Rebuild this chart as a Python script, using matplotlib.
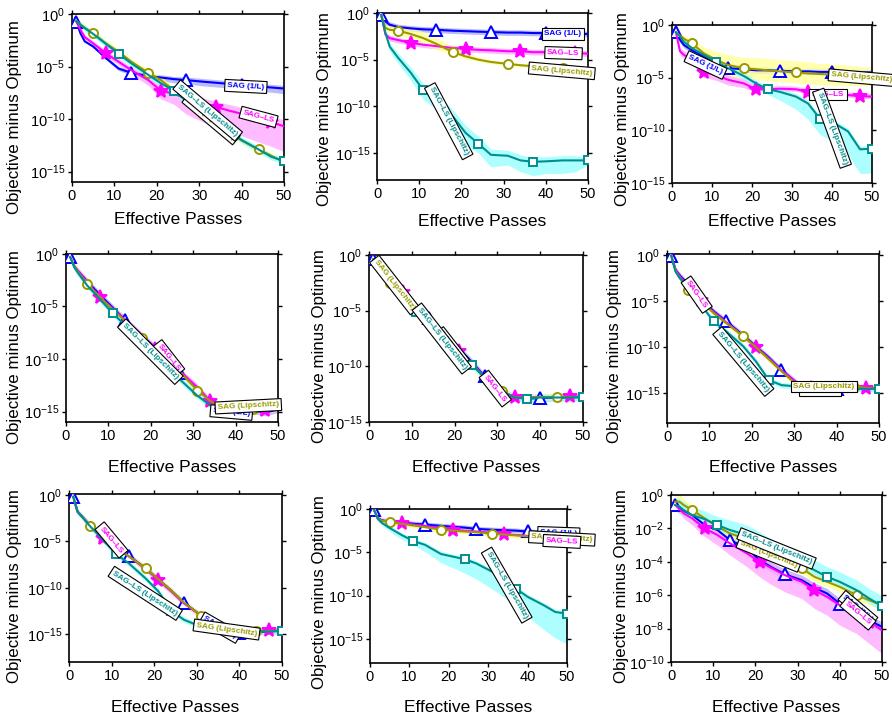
import numpy as np
import matplotlib
matplotlib.use('Agg')
import matplotlib.pyplot as plt

plt.rcParams['font.family'] = ['Liberation Sans', 'DejaVu Sans']
plt.rcParams['mathtext.fontset'] = 'custom'
plt.rcParams['mathtext.rm'] = 'Liberation Sans'
plt.rcParams['mathtext.it'] = 'Liberation Sans:italic'

# %% data: log10(objective - optimum), one row per panel
passes = [1, 2, 3, 5, 8, 11, 14, 18, 21, 24, 27, 31, 34, 37, 40, 44, 47, 50]

sag_1L = [
    [-0.73, -1.85, -2.6, -3.1, -4.2, -5.2, -5.6, -5.9, -6.05, -6.2, -6.3, -6.45, -6.55, -6.65, -6.75, -6.9, -7.0, -7.1],
    [-0.2, -0.9, -1.25, -1.5, -1.65, -1.75, -1.8, -1.9, -1.95, -2.0, -2.05, -2.1, -2.1, -2.15, -2.15, -2.2, -2.2, -2.25],
    [-0.7, -1.4, -1.9, -2.4, -3.0, -3.6, -4.1, -4.2, -4.3, -4.3, -4.35, -4.4, -4.4, -4.45, -4.45, -4.5, -4.5, -4.5],
    [-0.3, -1.2, -1.7, -2.6, -3.9, -5.1, -6.3, -7.8, -8.9, -10.1, -11.3, -12.8, -14.0, -14.7, -14.8, -14.9, -15.1, -14.8],
    [-0.4, -0.8, -1.2, -2.0, -3.2, -4.6, -5.7, -7.3, -8.4, -9.6, -10.9, -12.2, -12.8, -12.9, -12.85, -12.8, -12.8, -12.75],
    [-0.07, -1.6, -2.2, -3.2, -4.7, -6.1, -7.2, -8.7, -9.9, -11.1, -12.45, -14.0, -14.4, -14.45, -14.5, -14.45, -14.5, -14.45],
    [-0.2, -1.8, -2.3, -3.3, -4.5, -5.5, -6.55, -7.9, -9.1, -10.3, -11.6, -13.0, -13.9, -14.5, -14.9, -14.8, -14.7, -14.65],
    [-0.08, -1.05, -1.3, -1.45, -1.55, -1.7, -1.8, -1.95, -2.05, -2.15, -2.3, -2.4, -2.45, -2.5, -2.6, -2.7, -2.75, -2.8],
    [-0.6, -0.8, -0.95, -1.2, -1.8, -2.1, -2.7, -3.2, -3.9, -4.35, -4.75, -5.1, -5.55, -5.9, -6.5, -7.0, -7.5, -7.9],
]
sag_ls = [
    [-0.73, -1.5, -2.2, -2.8, -3.75, -4.55, -5.35, -6.3, -7.3, -7.6, -8.05, -8.5, -8.85, -9.2, -9.5, -10.0, -10.3, -10.7],
    [-0.2, -2.3, -2.7, -2.9, -3.2, -3.4, -3.55, -3.75, -3.85, -3.95, -4.0, -4.1, -4.1, -4.2, -4.2, -4.25, -4.3, -4.35],
    [-0.7, -2.5, -2.85, -3.2, -4.45, -4.75, -5.2, -5.55, -6.1, -6.1, -6.05, -6.1, -6.35, -6.6, -6.65, -6.65, -6.75, -6.8],
    [-0.3, -1.2, -1.7, -2.7, -4.1, -5.2, -6.3, -7.8, -9.0, -10.0, -11.2, -12.7, -14.0, -14.6, -14.8, -14.8, -14.9, -14.8],
    [-0.4, -0.9, -1.3, -2.2, -3.3, -4.7, -5.8, -7.4, -8.6, -9.7, -11.0, -12.3, -12.75, -12.8, -12.75, -12.8, -12.7, -12.75],
    [-0.07, -1.6, -2.3, -3.4, -4.9, -6.2, -7.3, -8.8, -10.0, -11.2, -12.5, -14.0, -14.4, -14.45, -14.5, -14.45, -14.45, -14.45],
    [-0.2, -1.8, -2.3, -3.4, -4.6, -5.6, -6.6, -8.0, -9.2, -10.4, -11.7, -13.0, -14.0, -14.5, -14.8, -14.75, -14.6, -14.65],
    [-0.08, -1.1, -1.35, -1.5, -1.6, -1.8, -1.95, -2.2, -2.4, -2.5, -2.6, -2.75, -2.9, -3.0, -3.1, -3.25, -3.4, -3.5],
    [-0.6, -0.85, -1.1, -1.4, -2.0, -2.4, -2.9, -3.5, -4.0, -4.4, -4.8, -5.2, -5.7, -6.1, -6.6, -7.1, -7.6, -8.1],
]
sag_lip = [
    [-0.65, -1.0, -1.3, -1.85, -2.8, -3.6, -4.55, -5.6, -6.3, -7.25, -8.2, -9.5, -10.45, -11.25, -12.05, -12.9, -13.5, -14.1],
    [-0.2, -1.6, -1.8, -1.9, -2.25, -2.7, -3.3, -4.2, -4.65, -5.0, -5.25, -5.45, -5.6, -5.7, -5.8, -5.9, -6.0, -6.05],
    [-0.7, -1.0, -1.3, -1.75, -2.7, -3.3, -3.8, -4.1, -4.2, -4.3, -4.4, -4.5, -4.6, -4.65, -4.7, -4.8, -4.85, -4.9],
    [-0.3, -1.2, -1.8, -2.9, -4.1, -5.3, -6.4, -8.0, -9.1, -10.2, -11.3, -13.0, -14.0, -14.6, -14.8, -14.8, -14.8, -14.7],
    [-0.4, -0.9, -1.4, -2.55, -3.6, -4.9, -6.0, -7.6, -8.7, -9.8, -11.0, -12.2, -12.8, -12.8, -12.75, -12.75, -12.75, -12.75],
    [-0.07, -1.7, -2.5, -3.8, -5.0, -6.3, -7.4, -8.8, -10.0, -11.3, -12.6, -14.25, -14.4, -14.4, -14.35, -14.25, -14.4, -14.45],
    [-0.2, -1.8, -2.3, -3.35, -4.6, -5.6, -6.6, -7.9, -9.1, -10.3, -11.6, -13.0, -13.9, -14.4, -14.6, -14.7, -14.65, -14.65],
    [-0.08, -1.1, -1.35, -1.5, -1.7, -1.9, -2.1, -2.4, -2.5, -2.6, -2.7, -2.85, -2.95, -3.05, -3.15, -3.25, -3.4, -3.5],
    [-0.4, -0.4, -0.6, -0.9, -1.4, -1.9, -2.3, -2.65, -3.0, -3.6, -4.0, -4.4, -4.9, -5.2, -5.5, -6.0, -6.3, -6.6],
]
sag_ls_lip = [
    [-0.7, -1.05, -1.35, -1.9, -2.85, -3.8, -4.7, -5.8, -6.6, -7.3, -8.3, -9.5, -10.4, -11.2, -12.0, -12.9, -13.6, -14.0],
    [-0.2, -2.15, -3.6, -4.8, -6.4, -8.3, -9.3, -11.1, -12.85, -14.0, -15.2, -15.3, -15.8, -15.95, -15.9, -15.8, -15.8, -15.8],
    [-0.7, -1.1, -1.6, -2.2, -2.85, -3.5, -4.1, -4.85, -5.55, -6.1, -6.35, -6.8, -7.45, -8.9, -9.2, -10.1, -11.8, -11.75],
    [-0.3, -1.3, -1.9, -3.0, -4.3, -5.65, -6.8, -8.4, -9.6, -10.8, -12.0, -13.5, -14.4, -14.7, -14.7, -14.7, -14.6, -14.5],
    [-0.4, -0.9, -1.4, -2.4, -3.7, -5.1, -6.2, -7.8, -8.9, -9.85, -11.0, -12.3, -12.8, -12.9, -12.8, -12.8, -12.8, -12.75],
    [-0.07, -1.8, -2.5, -3.4, -5.4, -7.2, -8.3, -9.9, -11.55, -13.55, -14.1, -14.25, -14.4, -14.4, -14.45, -14.5, -14.5, -14.5],
    [-0.2, -1.8, -2.3, -3.4, -4.85, -6.35, -7.35, -9.0, -10.4, -12.5, -13.45, -14.2, -14.45, -14.7, -14.9, -14.7, -14.7, -14.65],
    [-0.08, -1.15, -1.6, -2.2, -3.0, -3.7, -4.15, -5.2, -5.5, -5.8, -6.3, -7.25, -8.2, -9.2, -10.15, -11.1, -11.9, -12.1],
    [-0.6, -0.7, -0.9, -1.2, -1.45, -1.8, -2.1, -2.4, -2.8, -3.3, -3.7, -4.1, -4.5, -4.9, -5.2, -5.7, -6.2, -6.65],
]

# spread of the shaded bands (decades below / above), where wider than default
band_default = 0.3
band_lo = {
    (0, 0): [0.1, 0.1, 0.1, 0.1, 0.15, 0.2, 0.2, 0.25, 0.3, 0.35, 0.35, 0.4, 0.4, 0.4, 0.45, 0.45, 0.45, 0.5],
    (0, 1): [0.1, 0.2, 0.2, 0.2, 0.3, 0.3, 0.4, 0.5, 0.8, 1.0, 1.5, 1.8, 2.0, 2.0, 2.1, 2.2, 2.3, 2.4],
    (1, 2): [0.0, 0.2, 0.3, 0.4, 0.6, 0.7, 0.6, 0.3, 0.3, 0.2, 0.2, 0.2, 0.2, 0.2, 0.2, 0.2, 0.2, 0.2],
    (1, 3): [0.0, 0.3, 0.5, 0.6, 0.8, 1.0, 1.0, 1.0, 1.2, 1.0, 1.3, 1.0, 1.2, 1.5, 1.3, 1.4, 1.2, 0.5],
    (2, 1): [0.0, 0.3, 0.4, 0.5, 0.5, 0.5, 0.5, 0.4, 0.3, 0.2, 0.2, 0.2, 0.2, 0.2, 0.2, 0.2, 0.2, 0.2],
    (2, 2): [0.0, 0.2, 0.3, 0.4, 0.6, 0.8, 1.0, 1.0, 1.0, 1.0, 1.0, 1.0, 1.0, 1.0, 1.0, 1.0, 0.9, 0.9],
    (2, 3): [0.1, 0.2, 0.2, 0.3, 0.3, 0.3, 0.3, 0.3, 0.3, 0.5, 0.8, 1.2, 1.5, 1.5, 1.8, 2.2, 2.3, 2.3],
    (7, 3): [0.1, 0.2, 0.3, 0.4, 0.5, 0.5, 0.8, 1.0, 1.3, 1.6, 1.8, 2.0, 2.0, 2.0, 2.3, 2.8, 3.0, 3.5],
    (8, 1): [0.1, 0.2, 0.3, 0.4, 0.5, 0.6, 0.7, 0.8, 0.9, 1.0, 1.0, 1.0, 1.1, 1.1, 1.2, 1.2, 1.3, 1.4],
}
band_hi = {
    (0, 0): [0.1, 0.1, 0.1, 0.1, 0.15, 0.2, 0.2, 0.25, 0.25, 0.25, 0.3, 0.3, 0.3, 0.3, 0.3, 0.3, 0.3, 0.3],
    (0, 1): [0.1, 0.2, 0.2, 0.2, 0.3, 0.3, 0.3, 0.3, 0.4, 0.4, 0.5, 0.5, 0.5, 0.6, 0.6, 0.6, 0.6, 0.6],
    (1, 2): [0.0, 0.3, 0.4, 0.5, 0.6, 0.7, 0.7, 0.6, 0.5, 0.3, 0.2, 0.2, 0.2, 0.2, 0.2, 0.2, 0.2, 0.2],
    (1, 3): [0.0, 0.3, 0.4, 0.5, 0.6, 0.7, 0.8, 0.7, 0.8, 0.8, 0.6, 0.6, 0.6, 0.5, 0.5, 0.5, 0.5, 0.3],
    (2, 1): [0.0, 0.3, 0.4, 0.5, 0.5, 0.5, 0.5, 0.5, 0.4, 0.3, 0.3, 0.3, 0.3, 0.3, 0.3, 0.3, 0.3, 0.3],
    (2, 2): [0.0, 0.2, 0.3, 0.4, 0.6, 0.8, 1.0, 1.0, 1.1, 1.1, 1.1, 1.1, 1.1, 1.0, 1.0, 1.0, 0.9, 0.9],
    (8, 2): [0.5, 0.5, 0.4, 0.3, 0.3, 0.3, 0.3, 0.3, 0.3, 0.3, 0.3, 0.3, 0.3, 0.3, 0.3, 0.3, 0.3, 0.3],
    (8, 3): [0.4, 0.5, 0.5, 0.5, 0.5, 0.5, 0.6, 0.6, 0.6, 0.6, 0.6, 0.6, 0.6, 0.6, 0.6, 0.6, 0.6, 0.6],
}

names = ['SAG (1/L)', 'SAG–LS', 'SAG (Lipschitz)', 'SAG–LS (Lipschitz)']
series = [sag_1L, sag_ls, sag_lip, sag_ls_lip]
colors = ['#0000ff', '#ff00ff', '#999900', '#008f8f']
fills = ['#aaaaff', '#ffaaff', '#ffff99', '#99ffff']
markers = ['^', '*', 'o', 's']
msizes = [8, 10, 6.5, 5.5]
mark_at = [[1, 14, 27, 40], [8, 21, 34, 47], [5, 18, 31, 44], [11, 24, 37, 50]]

# axes rectangles in pixels (left, right, top, bottom) and y limits (log10)
W, H = 892, 717
boxes = [(72, 284, 14, 182), (377, 588, 13, 180), (672, 872, 25, 183),
         (66, 278, 254, 422), (369, 583, 255, 422), (667, 879, 254, 423),
         (69, 282, 494, 662), (370, 567, 509, 663), (671, 882, 495, 662)]
ylims = [(-16, 0), (-17.9, 0), (-15, 0),
         (-16, 0), (-15, 0), (-18.2, 0.1),
         (-18, 0.1), (-17.8, 0), (-10, 0)]
# axis label anchors in pixels: ylabel (right edge x, centre y), xlabel top y
ylab_pos = [(22, 117), (332, 109), (630, 109),
            (22, 347), (327, 346), (622, 346),
            (22, 586), (327, 592), (629, 586)]
xlab_top = [212, 214, 214, 460, 460, 460, 700, 700, 700]

# text boxes on the curves: (series, x, log10 y, rotation)
tags = [
    [(0, 41, -6.9, -3), (1, 44, -9.8, -15), (2, 32.8, -10.0, -40), (3, 32, -9.2, -40)],
    [(0, 44, -2.25, 0), (1, 44.2, -4.3, -2), (2, 43.8, -6.2, -5), (3, 17, -11.6, -62)],
    [(0, 8.4, -3.8, -25), (2, 47.4, -5.0, -5), (1, 39, -6.6, 0), (3, 40, -9.8, -70)],
    [(0, 39, -15.1, -5), (2, 43, -14.5, 3), (1, 24.2, -9.9, -52), (3, 19.9, -9.3, -45)],
    [(2, 6, -2.7, -52), (0, 19.3, -8.25, -52), (3, 17, -7.5, -52), (1, 29.5, -12.0, -52)],
    [(0, 36, -14.6, 0), (1, 7, -4.3, -55), (3, 18, -11.55, -50), (2, 37, -14.25, 0)],
    [(1, 10, -4.85, -50), (3, 17.9, -10.6, -33), (0, 35.5, -14.3, -30), (2, 37, -14.5, -8)],
    [(0, 47.9, -2.8, -2), (2, 48.7, -3.4, -3), (1, 48.7, -3.75, -3), (3, 34.7, -8.8, -60)],
    [(2, 23.2, -3.55, -22), (3, 25, -3.2, -22), (0, 44.3, -6.8, -40), (1, 44.3, -7.1, -40)],
]

fig = plt.figure(figsize=(W / 100, H / 100), dpi=100)
x = np.array(passes)

for p in range(9):
    l, r, t, b = boxes[p]
    ax = fig.add_axes([l / W, 1 - b / H, (r - l) / W, (b - t) / H])
    ax.set_yscale('log')

    for s in range(4):
        y = np.array(series[s][p])
        lo = np.array(band_lo.get((p, s), [band_default] * len(x)))
        hi = np.array(band_hi.get((p, s), [band_default] * len(x)))
        ax.fill_between(x, 10 ** (y - lo), 10 ** (y + hi), color=fills[s],
                        alpha=0.8, lw=0, zorder=1)

    for s in range(4):
        y = 10 ** np.array(series[s][p])
        idx = [passes.index(m) for m in mark_at[s]]
        face = colors[s] if markers[s] == '*' else 'white'
        ax.plot(x, y, color=colors[s], lw=1.5, marker=markers[s], ms=msizes[s],
                mfc=face, mec=colors[s], mew=1.4, markevery=idx, zorder=3)

    for s, tx, ty, rot in tags[p]:
        ax.text(tx, 10 ** ty, names[s], color=colors[s], fontsize=5.9,
                fontweight='bold', rotation=rot, rotation_mode='anchor',
                ha='center', va='center', zorder=5,
                bbox=dict(boxstyle='square,pad=0.3', fc='white', ec='black', lw=0.8))

    ax.set_xlim(0, 50)
    ax.set_ylim(10 ** ylims[p][0], 10 ** ylims[p][1])
    ax.set_xticks([0, 10, 20, 30, 40, 50])
    if p == 8:
        yt = [0, -2, -4, -6, -8, -10]
    else:
        yt = [0, -5, -10, -15]
    ax.set_yticks([10.0 ** e for e in yt])
    ax.set_yticklabels(['$10^{%d}$' % e if e == 0 else '$10^{\u2212%d}$' % -e for e in yt])
    ax.minorticks_off()
    ax.tick_params(direction='out', length=3, width=1, labelsize=10.5,
                   top=True, right=True, pad=2)
    for sp in ax.spines.values():
        sp.set_linewidth(1.2)
    ax.set_xlabel('Effective Passes', fontsize=12.5)
    ax.set_ylabel('Objective minus Optimum', fontsize=12.2)
    ax.xaxis.set_label_coords(0.5, (b - xlab_top[p]) / (b - t))
    yx, yy = ylab_pos[p]
    ax.yaxis.set_label_coords((yx - l) / (r - l), (b - yy) / (b - t))

fig.savefig('out.png', dpi=100)
